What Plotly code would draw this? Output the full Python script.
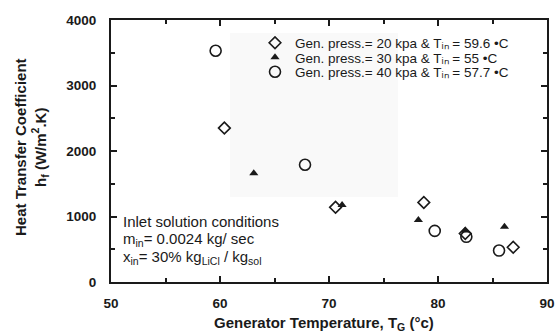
import plotly.graph_objects as go

# Generator temperature (°C) and heat transfer coefficient (W/m².K) per generator pressure
t_20 = [60.4, 70.6, 78.7, 82.5, 86.9]
h_20 = [2350, 1140, 1215, 740, 530]

t_30 = [63.1, 71.2, 78.2, 82.5, 86.1]
h_30 = [1660, 1175, 945, 785, 845]

t_40 = [59.6, 67.8, 79.7, 82.6, 85.6]
h_40 = [3530, 1790, 780, 690, 480]

names = [
    "Gen. press.= 20 kpa & Tᵢₙ = 59.6 •C",
    "Gen. press.= 30 kpa & Tᵢₙ = 55 •C",
    "Gen. press.= 40 kpa & Tᵢₙ = 57.7 •C",
]

note_lines = [
    "Inlet solution conditions",
    "m<sub>in</sub>= 0.0024 kg/ sec",
    "x<sub>in</sub>= 30% kg<sub>LiCl</sub> / kg<sub>sol</sub>",
]

x_ticks = [50, 60, 70, 80, 90]
y_ticks = [0, 1000, 2000, 3000, 4000]

FONT = "Liberation Sans, Arial, sans-serif"
INK = "#1a1a1a"

# plot-area geometry in pixels (used to place paper-referenced items)
L, R, T, B = 111, 547, 20, 282
def px(xp):
    return (xp - L) / (R - L)
def py(yp):
    return (B - yp) / (B - T)

fig = go.Figure()
fig.add_trace(go.Scatter(
    x=t_20, y=h_20, mode="markers", name=names[0], legend="legend",
    marker=dict(symbol="diamond-open", size=9, color=INK, line=dict(width=1.6)),
))
fig.add_trace(go.Scatter(
    x=t_30, y=h_30, mode="markers", name=names[1], legend="legend2",
    marker=dict(symbol="triangle-up", size=8, color=INK),
))
fig.add_trace(go.Scatter(
    x=t_40, y=h_40, mode="markers", name=names[2], legend="legend3",
    marker=dict(symbol="circle-open", size=11, color=INK, line=dict(width=1.6)),
))

axis_common = dict(
    showline=True, linecolor=INK, linewidth=2, mirror="ticks",
    ticks="inside", ticklen=6, tickwidth=1.5, tickcolor=INK,
    showgrid=False, zeroline=False, automargin=False,
    tickfont=dict(family=FONT, size=13.5, color=INK, weight="bold"),
)

def legend_row(y):
    return dict(
        x=px(255), y=y, xanchor="left", yanchor="middle",
        bgcolor="rgba(0,0,0,0)", borderwidth=0,
        font=dict(family=FONT, size=13.5, color=INK),
        itemwidth=30,
    )

fig.update_layout(
    width=557, height=332,
    margin=dict(l=L, r=557 - R, t=T, b=332 - B),
    paper_bgcolor="white", plot_bgcolor="white",
    showlegend=True,
    legend=legend_row(py(43)),
    legend2=legend_row(py(57.5)),
    legend3=legend_row(py(72)),
    xaxis=dict(
        range=[50, 90], tickvals=x_ticks,
        minor=dict(dtick=5, ticks="inside", ticklen=4, tickwidth=1.5, tickcolor=INK),
        ticklabelstandoff=8,
        **axis_common,
    ),
    yaxis=dict(
        range=[0, 4000], tickvals=y_ticks,
        minor=dict(dtick=500, ticks="inside", ticklen=4, tickwidth=1.5, tickcolor=INK),
        ticklabelstandoff=10,
        **axis_common,
    ),
)

# faint shaded panel behind the legend
fig.add_shape(
    type="rect", xref="paper", yref="paper", layer="below",
    x0=px(230), x1=px(398), y0=py(197), y1=py(33),
    fillcolor="#f9f9f9", line=dict(width=0),
)

# x axis title
fig.add_annotation(
    xref="paper", yref="paper", x=px(324), y=py(323),
    xanchor="center", yanchor="middle", showarrow=False,
    text="Generator Temperature, T<sub>G</sub> (°c)",
    font=dict(family=FONT, size=15, color=INK, weight="bold"),
)

# two-line y axis title
fig.add_annotation(
    xref="paper", yref="paper", x=0, y=py(147), xshift=-(L - 31),
    text="Heat Transfer Coefficient<br>h<sub>f</sub> (W/m<sup>2</sup>.K)",
    textangle=-90, showarrow=False, xanchor="center", yanchor="middle",
    font=dict(family=FONT, size=15, color=INK, weight="bold"),
)

# inlet conditions note, one annotation per line
for i, line in enumerate(note_lines):
    fig.add_annotation(
        xref="paper", yref="paper", x=px(121), y=py(221 + 18 * i),
        xanchor="left", yanchor="middle", align="left", showarrow=False,
        text=line, font=dict(family=FONT, size=15, color=INK),
    )

fig.write_html("out.html")
